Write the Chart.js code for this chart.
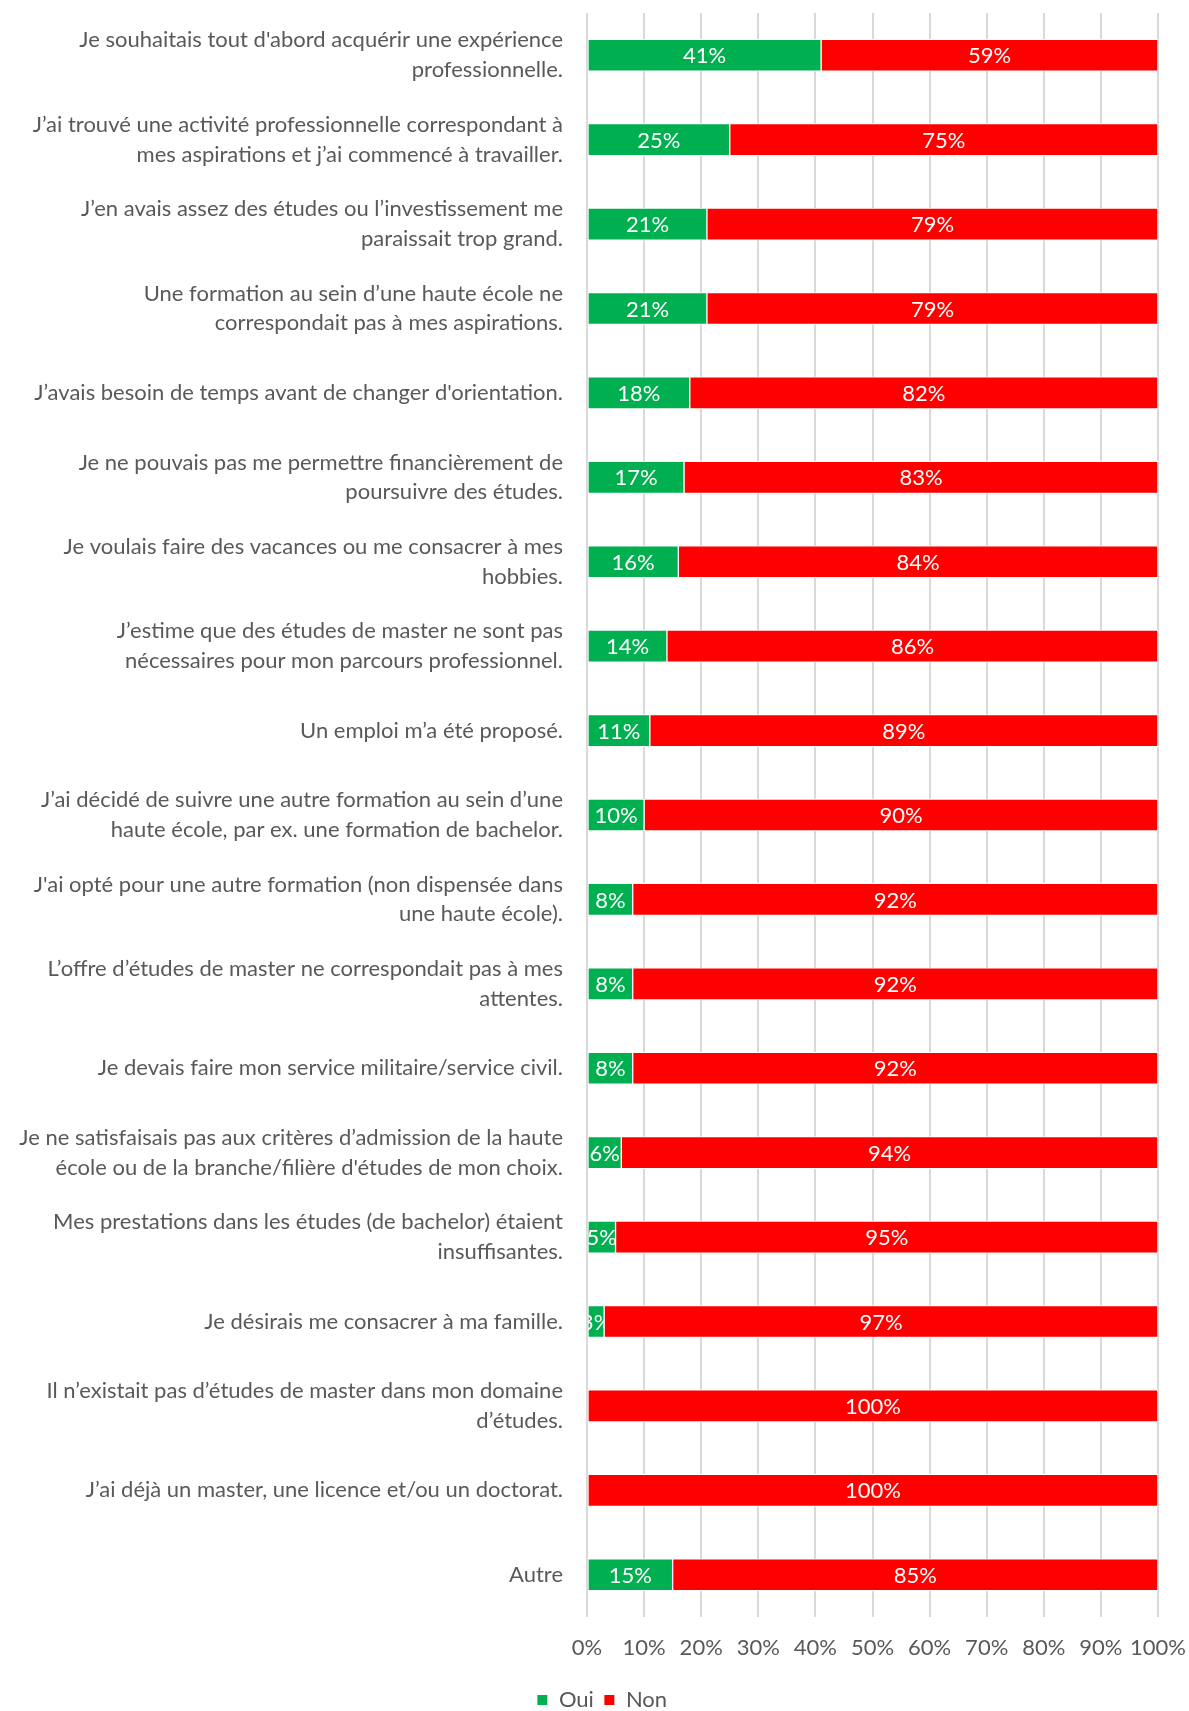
<!DOCTYPE html>
<html>
<head>
<meta charset="utf-8">
<script src="https://cdn.jsdelivr.net/npm/chart.js@4"></script>
<style>
  html, body { margin: 0; padding: 0; background: #fff; }
</style>
</head>
<body>
<canvas id="myChart" width="1189" height="1711"></canvas>
<script>
// libellés des raisons (retour à la ligne comme dans l'original)
const categories = [
  ["Je souhaitais tout d'abord acquérir une expérience", "professionnelle."],
  ["J’ai trouvé une activité professionnelle correspondant à", "mes aspirations et j’ai commencé à travailler."],
  ["J’en avais assez des études ou l’investissement me", "paraissait trop grand."],
  ["Une formation au sein d’une haute école ne", "correspondait pas à mes aspirations."],
  "J’avais besoin de temps avant de changer d'orientation.",
  ["Je ne pouvais pas me permettre financièrement de", "poursuivre des études."],
  ["Je voulais faire des vacances ou me consacrer à mes", "hobbies."],
  ["J’estime que des études de master ne sont pas", "nécessaires pour mon parcours professionnel."],
  "Un emploi m’a été proposé.",
  ["J’ai décidé de suivre une autre formation au sein d’une", "haute école, par ex. une formation de bachelor."],
  ["J'ai opté pour une autre formation (non dispensée dans", "une haute école)."],
  ["L’offre d’études de master ne correspondait pas à mes", "attentes."],
  "Je devais faire mon service militaire/service civil.",
  ["Je ne satisfaisais pas aux critères d’admission de la haute", "école ou de la branche/filière d'études de mon choix."],
  ["Mes prestations dans les études (de bachelor) étaient", "insuffisantes."],
  "Je désirais me consacrer à ma famille.",
  ["Il n’existait pas d’études de master dans mon domaine", "d’études."],
  "J’ai déjà un master, une licence et/ou un doctorat.",
  "Autre"
];

const oui = [41, 25, 21, 21, 18, 17, 16, 14, 11, 10, 8, 8, 8, 6, 5, 3, 0, 0, 15];
const non = [59, 75, 79, 79, 82, 83, 84, 86, 89, 90, 92, 92, 92, 94, 95, 97, 100, 100, 85];

const seriesNames = ["Oui", "Non"];
const xTicks = [0, 10, 20, 30, 40, 50, 60, 70, 80, 90, 100];

const FONT = "Lato";
const GREY = "#595959";

// étiquettes blanches au centre de chaque segment, coupées au bord de la barre
const barLabels = {
  id: "barLabels",
  afterDatasetsDraw(chart) {
    const ctx = chart.ctx;
    chart.data.datasets.forEach((ds, i) => {
      const meta = chart.getDatasetMeta(i);
      meta.data.forEach((bar, j) => {
        const v = ds.data[j];
        if (!v) return;
        const left = Math.min(bar.x, bar.base);
        const w = Math.abs(bar.x - bar.base);
        const h = bar.height;
        ctx.save();
        ctx.beginPath();
        ctx.rect(left, bar.y - h / 2, w, h);
        ctx.clip();
        ctx.fillStyle = "#fff";
        ctx.font = "22px " + FONT;
        ctx.textAlign = "center";
        ctx.textBaseline = "middle";
        ctx.fillText(v + "%", left + w / 2, bar.y + 1);
        ctx.restore();
      });
    });
  }
};

// légende un peu décalée vers la droite comme dans l'original
const legendShift = {
  id: "legendShift",
  afterUpdate(chart) {
    const lg = chart.legend;
    if (!lg) return;
    lg.left += 23;
    lg.right += 23;
  }
};

const ctx = document.getElementById("myChart");
new Chart(ctx, {
  type: "bar",
  data: {
    labels: categories,
    datasets: [
      {
        label: seriesNames[0],
        data: oui,
        backgroundColor: "#00B050",
        borderColor: "#fff",
        borderWidth: 1,
        borderSkipped: false,
        barThickness: 32
      },
      {
        label: seriesNames[1],
        data: non,
        backgroundColor: "#FF0000",
        borderColor: "#fff",
        borderWidth: 1,
        borderSkipped: false,
        barThickness: 32
      }
    ]
  },
  options: {
    indexAxis: "y",
    responsive: false,
    animation: false,
    layout: { padding: { top: 13, right: 31, bottom: -10, left: 0 } },
    scales: {
      x: {
        stacked: true,
        min: 0,
        max: 100,
        afterBuildTicks(axis) {
          axis.ticks = xTicks.map((v) => ({ value: v }));
        },
        afterFit(axis) {
          axis.paddingLeft = 0;
          axis.paddingRight = 0;
          axis.height = 62;
        },
        grid: { color: "#d9d9d9", lineWidth: 2, drawTicks: false },
        border: { display: false },
        ticks: {
          color: GREY,
          font: { family: FONT, size: 22 },
          padding: 18,
          maxRotation: 0,
          minRotation: 0,
          autoSkip: false,
          callback: (v) => v + "%"
        }
      },
      y: {
        stacked: true,
        grid: { display: false },
        border: { display: false },
        afterFit(axis) {
          axis.width = 587;
          axis.paddingTop = 0;
          axis.paddingBottom = 0;
        },
        ticks: {
          color: GREY,
          font: { family: FONT, size: 22, lineHeight: 1.35 },
          padding: 16
        }
      }
    },
    plugins: {
      legend: {
        position: "bottom",
        labels: {
          color: GREY,
          font: { family: FONT, size: 22 },
          boxWidth: 11,
          boxHeight: 11,
          padding: 10
        }
      },
      tooltip: { enabled: false }
    }
  },
  plugins: [barLabels, legendShift]
});
</script>
</body>
</html>
